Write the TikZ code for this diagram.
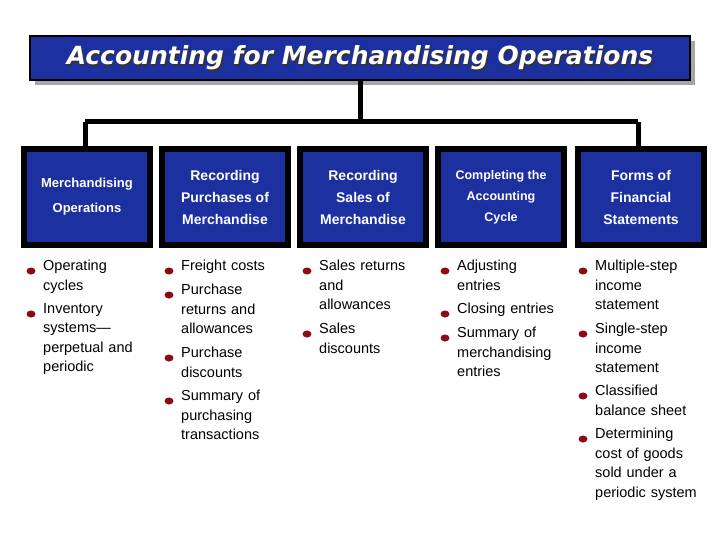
\documentclass[tikz,border=0pt]{standalone}
\usepackage{fontspec}
\usetikzlibrary{shapes.geometric}
\setmainfont{Liberation Sans}
\newfontfamily\titlefont{DejaVu Sans}
\definecolor{bblue}{RGB}{28,48,160}
\definecolor{bred}{RGB}{140,10,20}
\begin{document}
\begin{tikzpicture}[x=1pt,y=-1pt,
 hbox/.style={draw=black,line width=6pt,fill=bblue,minimum width=126pt,minimum height=96pt,inner sep=0pt,text=white,align=center,font=\bfseries\fontsize{14}{22}\selectfont},
 item/.style={anchor=north west,align=left,inner sep=0pt,text width=108pt,font=\fontsize{14.5}{19.5}\selectfont},
 dot/.style={fill=bred,ellipse,minimum width=9pt,minimum height=7pt,inner sep=0pt},
 conn/.style={line width=5pt}]
\useasboundingbox (0,0) rectangle (720,540);
\fill[gray!70] (35,41) rectangle (695,85);
\node[draw=black,line width=1.5pt,fill=bblue,minimum width=660pt,minimum height=44pt,inner sep=0pt] (title) at (360,58) {};
\node[text=black!80,font=\titlefont\bfseries\itshape\fontsize{25}{30}\selectfont] at (361.5,59.5) {Accounting for Merchandising Operations};
\node[text=white,font=\titlefont\bfseries\itshape\fontsize{25}{30}\selectfont] (tt) at (360,58) {Accounting for Merchandising Operations};
\node[hbox,font=\bfseries\fontsize{13}{25}\selectfont] (b1) at (87,197) {Merchandising\\Operations};
\node[hbox] (b2) at (225,197) {Recording\\Purchases of\\Merchandise};
\node[hbox] (b3) at (363,197) {Recording\\Sales of\\Merchandise};
\node[hbox,font=\bfseries\fontsize{12.5}{21}\selectfont] (b4) at (501,197) {Completing the\\Accounting\\Cycle};
\node[hbox] (b5) at (641,197) {Forms of\\Financial\\Statements};
\coordinate (m) at (360,122);
\coordinate (l) at (85,122);
\coordinate (r) at (638,122);
\draw[conn] (title.south) -- (m);
\draw[conn] (l) -- (r);
\draw[conn] (l) -- (l|-b1.north);
\draw[conn] (r) -- (r|-b5.north);
\newcommand{\itm}[3]{\node[dot] at (#1-12,#2+1) {}; \node[item] at (#1,#2-10) {#3};}
\itm{43}{270}{Operating\\cycles}
\itm{43}{313}{Inventory\\systems—\\perpetual and\\periodic}
\itm{181}{270}{Freight costs}
\itm{181}{294}{Purchase\\returns and\\allowances}
\itm{181}{357}{Purchase\\discounts}
\itm{181}{400}{Summary of\\purchasing\\transactions}
\itm{319}{270}{Sales returns\\and\\allowances}
\itm{319}{333}{Sales\\discounts}
\itm{457}{270}{Adjusting\\entries}
\itm{457}{313}{Closing entries}
\itm{457}{337}{Summary of\\merchandising\\entries}
\itm{595}{270}{Multiple-step\\income\\statement}
\itm{595}{333}{Single-step\\income\\statement}
\itm{595}{395}{Classified\\balance sheet}
\itm{595}{438}{Determining\\cost of goods\\sold under a\\periodic system}
\end{tikzpicture}
\end{document}
